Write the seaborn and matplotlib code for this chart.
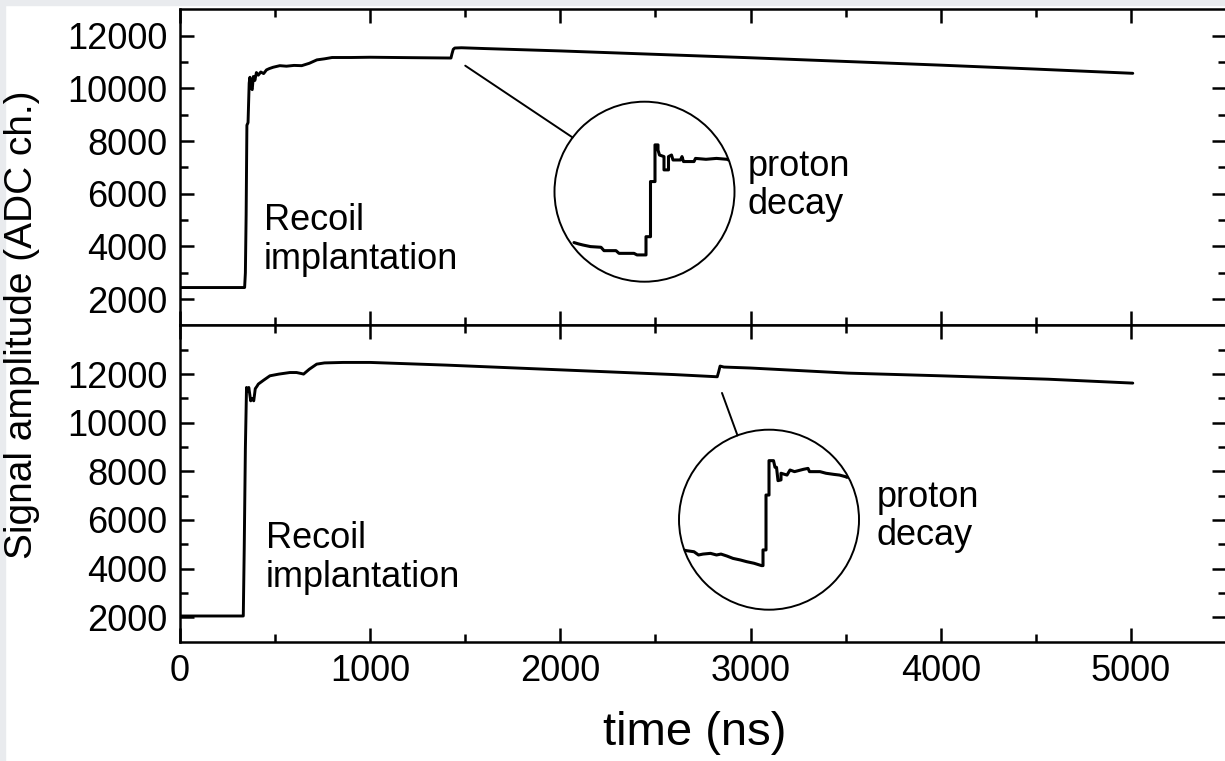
import numpy as np
import pandas as pd
import seaborn as sns
import matplotlib.pyplot as plt
from matplotlib.patches import Circle, Rectangle, ConnectionPatch

sns.set_style("ticks")
plt.rcParams['font.family'] = ['Liberation Sans', 'DejaVu Sans']
plt.rcParams['text.color'] = 'black'
plt.rcParams['xtick.color'] = 'black'
plt.rcParams['ytick.color'] = 'black'

# upper trace: recoil implantation followed by proton decay (ns, ADC ch.)
top_t = [0, 340, 344, 348, 352, 358, 364, 368, 374, 380, 386, 394, 402, 412, 425,
         440, 455, 470, 490, 525, 560, 600, 640, 680, 720, 760, 800, 900, 1000,
         1200, 1425, 1430, 1437, 1445, 1480, 1600, 2000, 2500, 3000, 3500, 4000,
         4500, 5010]
top_v = [2440, 2440, 3000, 5200, 8600, 8700, 10200, 10420, 10000, 9950, 10450,
         10300, 10600, 10500, 10620, 10560, 10700, 10750, 10800, 10860, 10840,
         10870, 10860, 10950, 11080, 11120, 11170, 11170, 11180, 11165, 11150,
         11300, 11480, 11530, 11540, 11510, 11420, 11290, 11160, 11020, 10880,
         10730, 10570]

# lower trace
bot_t = [0, 333, 338, 344, 350, 356, 362, 372, 378, 388, 396, 405, 412, 440, 473,
         520, 578, 613, 640, 650, 680, 719, 760, 858, 1000, 1400, 1800, 2200,
         2600, 2825, 2832, 2840, 2860, 3000, 3514, 4000, 4565, 5010]
bot_v = [2050, 2050, 4850, 8950, 11450, 11300, 11450, 10900, 11000, 10900, 11400,
         11500, 11590, 11750, 11930, 12000, 12065, 12065, 12020, 12000, 12200,
         12410, 12460, 12480, 12480, 12370, 12240, 12110, 11980, 11890, 12080,
         12330, 12290, 12250, 12040, 11930, 11790, 11630]

# magnified steps shown in the circles
top_zoom_t = [1393, 1396, 1399, 1404, 1411, 1413, 1421, 1423, 1433, 1435, 1441,
              1441, 1444, 1444, 1447, 1447, 1449, 1449, 1450, 1453, 1453, 1456,
              1456, 1458, 1459, 1464, 1465, 1466, 1473, 1474, 1481, 1488, 1495, 1496]
top_zoom_v = [11074, 11068, 11063, 11056, 11053, 11038, 11038, 11026, 11026, 11019,
              11019, 11100, 11100, 11345, 11345, 11508, 11508, 11485, 11463, 11456,
              11397, 11397, 11456, 11463, 11441, 11441, 11456, 11434, 11434, 11448,
              11444, 11448, 11444, 11441]

bot_zoom_t = [2781, 2785, 2790, 2793, 2796, 2801, 2805, 2808, 2812, 2816, 2821,
              2825, 2830, 2835, 2836, 2836, 2838, 2838, 2840, 2840, 2843, 2844,
              2845, 2846, 2848, 2848, 2852, 2854, 2857, 2863, 2866, 2867, 2874,
              2878, 2883, 2887, 2891, 2892]
bot_zoom_v = [11835, 11828, 11822, 11804, 11809, 11813, 11804, 11809, 11798, 11785,
              11776, 11767, 11758, 11745, 11745, 11832, 11832, 12137, 12137, 12328,
              12328, 12291, 12291, 12217, 12221, 12258, 12248, 12276, 12267, 12280,
              12285, 12267, 12267, 12258, 12252, 12248, 12239, 12235]

x_ticks = [0, 1000, 2000, 3000, 4000, 5000]
y_ticks = [2000, 4000, 6000, 8000, 10000, 12000]

fig = plt.figure(figsize=(12.25, 7.61), dpi=100)
ax1 = fig.add_axes([0.1469, 0.5723, 0.8539, 0.4155])
ax2 = fig.add_axes([0.1469, 0.1570, 0.8539, 0.4153])

sns.lineplot(x=top_t, y=top_v, ax=ax1, color='black', lw=2.1, sort=False, estimator=None)
sns.lineplot(x=bot_t, y=bot_v, ax=ax2, color='black', lw=2.1, sort=False, estimator=None)

for ax, ylim in [(ax1, (1000, 13000)), (ax2, (1000, 14000))]:
    ax.set_xlim(0, 5500)
    ax.set_ylim(*ylim)
    ax.set_xticks(x_ticks)
    ax.set_xticks(np.arange(500, 5500, 1000), minor=True)
    ax.set_yticks(y_ticks)
    ax.set_yticks(np.arange(3000, ylim[1], 2000), minor=True)
    ax.tick_params(which='both', direction='in', top=True, right=True, width=1.8, color='black')
    ax.tick_params(which='major', length=10, labelsize=26, pad=9)
    ax.tick_params(which='minor', length=6)
    for s in ax.spines.values():
        s.set_linewidth(1.8)
        s.set_color('black')
ax1.tick_params(labelbottom=False)

# circles with the magnified proton step
def add_zoom(rect, t, v, xlim, ylim, anchor_ax, anchor, edge):
    ins = fig.add_axes(rect)
    ins.set_xlim(*xlim)
    ins.set_ylim(*ylim)
    ins.axis('off')
    circ = Circle((0.5, 0.5), 0.5, transform=ins.transAxes, fill=False, lw=1.4, ec='black')
    circ.set_clip_on(False)
    ins.add_patch(circ)
    sns.lineplot(x=t, y=v, ax=ins, color='black', lw=2.2, sort=False, estimator=None)
    ins.lines[-1].set_clip_path(circ)
    con = ConnectionPatch(xyA=anchor, coordsA=anchor_ax.transData, xyB=edge,
                          coordsB=ins.transAxes, lw=1.4, color='black')
    fig.add_artist(con)

add_zoom([0.45265, 0.62983, 0.14694, 0.23653], top_zoom_t, top_zoom_v,
         (1380, 1500), (10900, 11700), ax1, (1500, 10860), (0.101, 0.801))
add_zoom([0.55429, 0.19882, 0.14694, 0.23653], bot_zoom_t, bot_zoom_v,
         (2780, 2900), (11500, 12500), ax2, (2850, 11225), (0.325, 0.968))

# annotations
ax1.text(440, 4250, "Recoil\nimplantation", fontsize=26, ha='left', va='center', linespacing=1.15)
ax2.text(450, 4450, "Recoil\nimplantation", fontsize=26, ha='left', va='center', linespacing=1.15)
ax1.text(2985, 6300, "proton\ndecay", fontsize=26, ha='left', va='center', linespacing=1.1)
ax2.text(3665, 6150, "proton\ndecay", fontsize=26, ha='left', va='center', linespacing=1.1)

fig.text(22 / 1225, 1 - 325 / 761, "Signal amplitude (ADC ch.)", rotation=90,
         ha='center', va='center', fontsize=28)
fig.text(695 / 1225, 1 - 733 / 761, "time (ns)", ha='center', va='center', fontsize=34)

# light grey scan border on top and left
fig.patches.append(Rectangle((0, 1 - 5 / 761), 1, 5 / 761, transform=fig.transFigure,
                             color='#e9ebee', zorder=0))
fig.patches.append(Rectangle((0, 0), 5 / 1225, 1, transform=fig.transFigure,
                             color='#e9ebee', zorder=0))

fig.savefig("out.png", dpi=100)
